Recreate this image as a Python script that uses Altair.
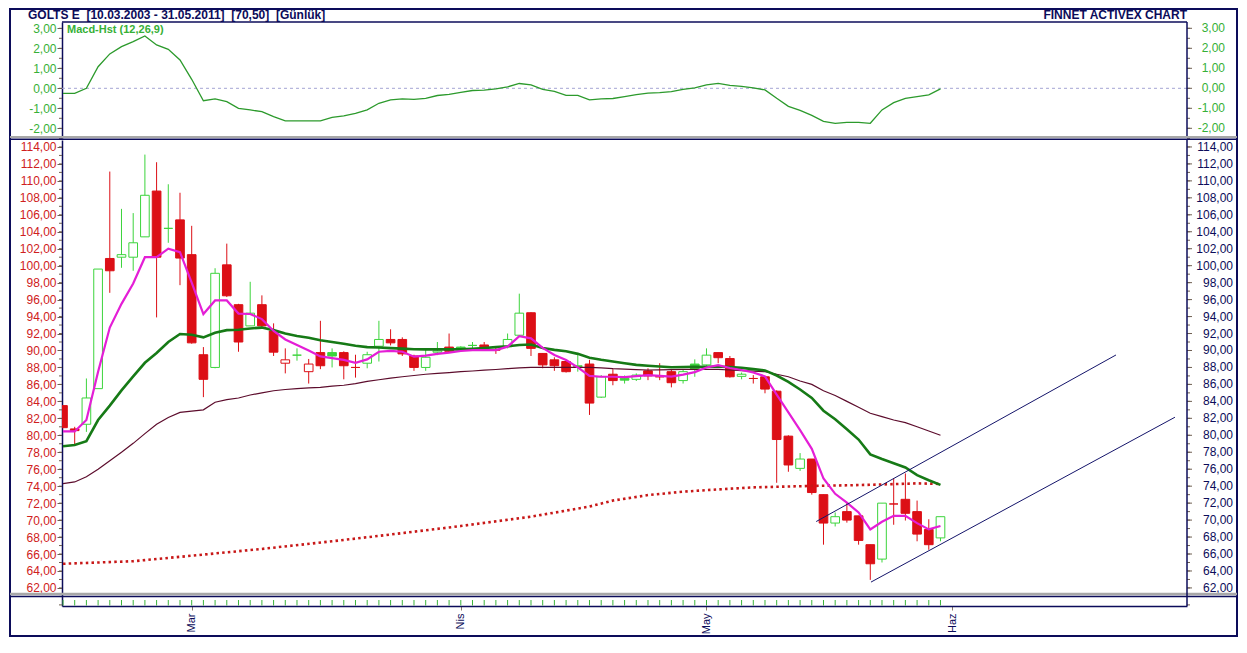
import altair as alt
import pandas as pd

TITLE_LEFT = "GOLTS E\u00a0 [10.03.2003 - 31.05.2011]\u00a0 [70,50]\u00a0 [Günlük]"
TITLE_RIGHT = "FİNNET ACTIVEX CHART"
MACD_LABEL = "Macd-Hst (12,26,9)"

opens = [83.5, 80.75, 81.3, 85.5, 100.85, 101.0, 101.0, 103.4, 108.8, 104.4,
         105.4, 101.3, 89.5, 88.0, 100.1, 95.4, 92.9, 95.4, 92.3, 88.5,
         89.45, 87.5, 89.75, 89.75, 89.75, 88.0, 88.5, 90.5, 91.3, 91.3,
         89.35, 88.0, 89.8, 90.4, 90.4, 90.6, 90.65, 90.05, 90.45, 91.8,
         94.45, 89.65, 88.9, 88.7, 88.1, 88.4, 84.5, 87.2, 86.72, 86.6,
         87.6, 86.9, 87.5, 86.45, 88.4, 88.3, 89.75, 89.05, 86.95, 86.7,
         86.9, 85.2, 79.9, 76.1, 77.2, 73.0, 69.65, 71.0, 70.5, 67.1,
         65.4, 71.9, 72.45, 71.0, 68.9, 67.9]
highs = [83.5, 81.0, 86.7, 99.6, 111.1, 106.7, 106.2, 113.1, 112.2, 109.6,
         108.6, 104.7, 90.4, 99.7, 102.6, 95.5, 98.1, 96.5, 93.2, 90.25,
         90.25, 89.0, 93.5, 90.25, 89.9, 89.5, 89.85, 93.5, 92.5, 91.55,
         89.5, 90.25, 91.0, 92.0, 90.5, 91.0, 91.0, 90.5, 92.0, 96.7,
         94.5, 89.7, 89.2, 88.8, 89.45, 88.9, 87.1, 87.8, 87.05, 87.3,
         87.9, 88.5, 87.8, 87.8, 88.95, 90.25, 89.75, 89.35, 87.4, 87.1,
         86.9, 85.3, 80.0, 77.9, 77.2, 73.0, 70.9, 72.1, 70.5, 67.1,
         72.0, 74.95, 75.5, 72.3, 70.1, 70.4]
lows = [80.9, 78.9, 80.4, 85.5, 96.8, 99.75, 99.4, 103.4, 93.9, 102.7,
        97.7, 90.8, 84.5, 87.9, 96.3, 89.85, 92.9, 92.6, 89.35, 87.3,
        88.8, 86.1, 87.8, 88.0, 86.6, 86.8, 87.9, 88.7, 90.6, 89.35,
        87.6, 87.6, 89.45, 89.85, 89.9, 90.0, 90.0, 89.6, 90.25, 91.6,
        89.35, 87.9, 87.6, 87.4, 87.5, 82.4, 84.4, 85.9, 86.1, 86.4,
        86.5, 86.5, 85.65, 86.1, 86.9, 88.2, 88.5, 86.8, 86.6, 86.1,
        84.95, 74.4, 75.7, 75.8, 73.0, 67.1, 69.25, 69.7, 67.1, 62.95,
        65.0, 69.45, 69.95, 67.5, 66.5, 67.5]
closes = [80.9, 80.55, 84.4, 99.6, 99.4, 101.3, 102.7, 108.3, 101.0, 104.4,
          100.9, 90.9, 86.6, 99.1, 96.45, 91.0, 94.4, 92.9, 89.8, 88.9,
          89.45, 88.4, 88.2, 89.35, 88.2, 88.0, 89.5, 91.3, 90.9, 89.6,
          88.0, 89.2, 89.95, 89.9, 90.05, 90.6, 90.25, 90.05, 91.3, 94.4,
          90.25, 88.3, 88.2, 87.5, 88.2, 83.8, 86.9, 86.45, 86.5, 87.1,
          87.0, 86.9, 86.2, 87.5, 87.8, 89.45, 89.15, 86.9, 87.2, 86.7,
          85.45, 79.5, 76.5, 77.2, 73.25, 69.65, 70.4, 70.0, 67.6, 64.85,
          72.0, 71.9, 70.8, 68.35, 67.1, 70.4]

ma_fast = [80.45, 80.45, 81.8, 87.5, 92.7, 95.5, 97.9, 101.0, 101.0, 102.0,
           101.6, 98.0, 94.3, 95.9, 95.9, 94.35, 94.3, 93.7, 92.3, 91.3,
           90.65, 90.0, 89.3, 89.1, 88.9, 88.55, 88.95, 89.85, 89.95, 89.85,
           89.27, 89.4, 89.6, 89.75, 89.94, 90.05, 90.05, 90.05, 90.45, 91.7,
           91.43, 90.3, 89.47, 88.88, 88.0, 87.0, 86.9, 86.9, 86.85, 86.98,
           87.1, 87.0, 86.92, 87.15, 87.45, 88.0, 88.27, 87.93, 87.7, 87.4,
           86.95, 84.8, 82.7, 80.6, 78.4, 74.9, 73.1, 72.05, 70.9, 68.9,
           69.8, 70.5, 70.5, 69.64, 68.9, 69.3]
ma_mid = [78.7, 78.85, 79.3, 81.8, 83.5, 85.3, 86.95, 88.55, 89.7, 91.0,
          91.94, 91.85, 91.55, 92.1, 92.4, 92.45, 92.6, 92.7, 92.4, 92.0,
          91.7, 91.5, 91.2, 91.0, 90.8, 90.55, 90.4, 90.35, 90.28, 90.22,
          90.15, 90.13, 90.13, 90.13, 90.13, 90.2, 90.3, 90.4, 90.5, 90.65,
          90.7, 90.3, 90.07, 89.9, 89.6, 89.15, 88.9, 88.7, 88.5, 88.3,
          88.2, 88.12, 88.03, 88.05, 88.08, 88.09, 88.09, 88.05, 87.95, 87.8,
          87.65, 87.05, 86.3, 85.4, 84.4, 82.9, 81.9, 80.7, 79.5, 77.75,
          77.2, 76.7, 76.2, 75.3, 74.7, 74.15]
ma_slow = [74.3, 74.5, 75.1, 76.0, 77.0, 78.0, 79.05, 80.2, 81.3, 82.1,
           82.7, 82.85, 83.0, 83.9, 84.2, 84.4, 84.75, 85.0, 85.25, 85.4,
           85.5, 85.58, 85.65, 85.8, 85.9, 86.1, 86.35, 86.55, 86.75, 86.9,
           87.05, 87.2, 87.3, 87.4, 87.5, 87.58, 87.68, 87.76, 87.85, 87.95,
           88.02, 88.02, 88.02, 88.02, 88.02, 88.0, 87.95, 87.85, 87.8, 87.75,
           87.7, 87.72, 87.75, 87.78, 87.78, 87.78, 87.78, 87.7, 87.62, 87.56,
           87.5, 87.2, 86.9, 86.4, 86.0, 85.25, 84.7, 84.0, 83.3, 82.6,
           82.2, 81.8, 81.5, 81.0, 80.5, 80.0]
ma_long_idx = [0, 6, 11, 17, 23, 28, 34, 40, 45, 47, 50, 53, 56, 59, 62, 64, 67, 70, 73, 75]
ma_long = [64.85, 65.15, 65.8, 66.6, 67.5, 68.3, 69.3, 70.4, 71.6, 72.3,
           72.95, 73.35, 73.62, 73.86, 73.96, 74.03, 74.1, 74.2, 74.33, 74.27]

macd = [-0.25, -0.25, 0.0, 1.08, 1.72, 2.08, 2.33, 2.62, 2.17, 1.95,
        1.42, 0.45, -0.62, -0.53, -0.67, -1.0, -1.08, -1.17, -1.42, -1.63,
        -1.63, -1.63, -1.63, -1.45, -1.38, -1.25, -1.08, -0.75, -0.58, -0.53,
        -0.55, -0.5, -0.36, -0.3, -0.2, -0.11, -0.09, -0.03, 0.07, 0.24,
        0.17, -0.05, -0.15, -0.35, -0.35, -0.58, -0.53, -0.51, -0.42, -0.32,
        -0.24, -0.22, -0.17, -0.05, 0.02, 0.17, 0.25, 0.15, 0.1, 0.02,
        -0.08, -0.5, -0.9, -1.1, -1.35, -1.65, -1.75, -1.7, -1.7, -1.75,
        -1.08, -0.72, -0.5, -0.42, -0.33, -0.03]

chan_upper_i = [64.38, 90.0]
chan_upper_p = [69.83, 89.47]
chan_lower_i = [69.06, 95.04]
chan_lower_p = [62.69, 82.13]

month_pos = [11, 34, 55, 76]
month_names = ["Mar", "Nis", "May", "Haz"]

price_ticks = list(range(62, 115, 2))
price_minor = list(range(60, 115, 1))
macd_ticks = [-2, -1, 0, 1, 2, 3]
macd_minor = [-2.5, -2, -1.5, -1, -0.5, 0, 0.5, 1, 1.5, 2, 2.5, 3]

# ---------------- styling ----------------
W = 1125
H_M = 116
H_P = 466
NAVY = "#0c0c5a"
RED_LBL = "#cf2020"
GREEN_LBL = "#36b036"
TICK = "#6e5e50"
RED = "#dc0f16"
GREEN = "#3cd43c"
FONT = "Liberation Sans"

XS = alt.Scale(domain=[-0.085, 96.07], nice=False, zero=False)
PS = alt.Scale(domain=[59.87, 114.82], nice=False, zero=False)
MS = alt.Scale(domain=[-2.485, 3.315], nice=False, zero=False)

DEC = "(datum.value < 0 ? '-' : '') + replace(format(abs(datum.value), '.2f'), '.', ',')"

def fmt(v):
    s = f"{abs(v):.2f}".replace(".", ",")
    return ("-" if v < 0 else "") + s

month_expr = "''"
for p, n in reversed(list(zip(month_pos, month_names))):
    month_expr = f"datum.value == {p} ? '{n}' : ({month_expr})"

PAX = alt.Axis(values=price_ticks, labelExpr=DEC, labelColor=RED_LBL, labelFont=FONT,
               labelFontSize=12, tickSize=5, tickColor=TICK, domainColor=NAVY,
               domainWidth=1.5, grid=False, title=None, labelPadding=1,
               labelOverlap=False, labelFlush=False, labelBound=False)
MAX = alt.Axis(values=macd_ticks, labelExpr=DEC, labelColor=GREEN_LBL, labelFont=FONT,
               labelFontSize=12, tickSize=5, tickColor=TICK, domainColor=NAVY,
               domainWidth=1.5, grid=False, title=None, labelPadding=1,
               labelOverlap=False, labelFlush=False, labelBound=False)
XAX = alt.Axis(values=month_pos, labelExpr=month_expr, labelAngle=270, labelColor=NAVY,
               labelFont=FONT, labelFontSize=11, tickSize=4, tickColor="#8a7a6a",
               domainColor=NAVY, domainWidth=1.5, grid=False, title=None,
               labelPadding=3, labelOverlap=False, labelFlush=False, labelBound=False)

def px(field):
    return alt.X(field, type="quantitative", scale=XS, axis=XAX)

def mx(field):
    return alt.X(field, type="quantitative", scale=XS, axis=None)

def py(field):
    return alt.Y(field, type="quantitative", scale=PS, axis=PAX)

def my(field):
    return alt.Y(field, type="quantitative", scale=MS, axis=MAX)

one = pd.DataFrame({"a": [0]})

# ---------------- candle table ----------------
rows = []
for k in range(len(closes)):
    up = k > 0 and closes[k] > closes[k - 1]
    col = GREEN if up else RED
    filled = closes[k] < opens[k]
    rows.append({
        "i": k, "x1": k - 0.37, "x2": k + 0.37,
        "lo": min(opens[k], closes[k]), "hi": max(opens[k], closes[k]),
        "l": lows[k], "h": highs[k], "col": col,
        "fillc": col if filled else "#ffffff",
    })
cdf = pd.DataFrame(rows)

def series_df(vals, idx=None):
    if idx is None:
        idx = list(range(len(vals)))
    return pd.DataFrame({"i": idx, "v": vals})

# ---------------- price panel ----------------
wicks = alt.Chart(cdf).mark_rule(strokeWidth=1, clip=True).encode(
    x=px("i"), y=py("l"), y2="h", color=alt.Color("col:N", scale=None))
bodies = alt.Chart(cdf).mark_rect(strokeWidth=1, clip=True).encode(
    x=px("x1"), x2="x2", y=py("lo"), y2="hi",
    fill=alt.Fill("fillc:N", scale=None), stroke=alt.Stroke("col:N", scale=None))

l_long = alt.Chart(series_df(ma_long, ma_long_idx)).mark_line(
    color="#c81818", strokeWidth=2.6, strokeDash=[2.5, 3.2]).encode(x=px("i"), y=py("v"))
l_slow = alt.Chart(series_df(ma_slow)).mark_line(
    color="#5c0c2c", strokeWidth=1.2).encode(x=px("i"), y=py("v"))
l_mid = alt.Chart(series_df(ma_mid)).mark_line(
    color="#167a16", strokeWidth=2.6).encode(x=px("i"), y=py("v"))
l_fast = alt.Chart(series_df(ma_fast)).mark_line(
    color="#e41ed6", strokeWidth=2.2).encode(x=px("i"), y=py("v"))

chan = pd.DataFrame({
    "i": chan_upper_i + chan_lower_i,
    "v": chan_upper_p + chan_lower_p,
    "g": ["u", "u", "l", "l"],
})
channel = alt.Chart(chan).mark_line(color="#14146a", strokeWidth=1).encode(
    x=px("i"), y=py("v"), detail="g:N")

ptick_df = pd.DataFrame({"v": price_ticks, "t": [fmt(v) for v in price_ticks]})
pminor_df = pd.DataFrame({"v": price_minor})
p_right_lbl = alt.Chart(ptick_df).mark_text(
    align="right", baseline="middle", font=FONT, fontSize=12, color=NAVY).encode(
    y=py("v"), x=alt.value(W + 46), text="t:N")
p_right_tick = alt.Chart(ptick_df).mark_rule(color=TICK, strokeWidth=1).encode(
    y=py("v"), x=alt.value(W), x2=alt.value(W + 5))
p_minor_l = alt.Chart(pminor_df).mark_rule(color=TICK, strokeWidth=1, clip=False).encode(
    y=py("v"), x=alt.value(-3), x2=alt.value(0))
p_minor_r = alt.Chart(pminor_df).mark_rule(color=TICK, strokeWidth=1).encode(
    y=py("v"), x=alt.value(W), x2=alt.value(W + 3))

strip = alt.Chart(cdf).mark_rule(color="#3cb43c", strokeWidth=1).encode(
    x=px("i"), y=alt.value(460), y2=alt.value(465.5))

sep_top_g = alt.Chart(one).mark_rule(color="#a8a8a8", strokeWidth=2).encode(
    x=alt.value(-52), x2=alt.value(W + 50), y=alt.value(-3))
sep_top_n = alt.Chart(one).mark_rule(color=NAVY, strokeWidth=1.5).encode(
    x=alt.value(-52), x2=alt.value(W + 50), y=alt.value(-0.8))
sep_bot_g = alt.Chart(one).mark_rule(color="#a8a8a8", strokeWidth=2.5).encode(
    x=alt.value(-52), x2=alt.value(W + 50), y=alt.value(454))
sep_bot_n = alt.Chart(one).mark_rule(color=NAVY, strokeWidth=1.5).encode(
    x=alt.value(-52), x2=alt.value(W + 50), y=alt.value(456.5))
p_right_border = alt.Chart(one).mark_rule(color=NAVY, strokeWidth=1.5).encode(
    x=alt.value(W), y=alt.value(0), y2=alt.value(H_P))

price = alt.layer(
    wicks, bodies, l_long, l_slow, l_mid, l_fast, channel,
    p_minor_l, p_minor_r, p_right_tick, p_right_lbl, strip,
    sep_top_g, sep_top_n, sep_bot_g, sep_bot_n, p_right_border,
).properties(width=W, height=H_P)

# ---------------- MACD panel ----------------
frame = alt.Chart(one).mark_rect(fillOpacity=0, stroke=NAVY, strokeWidth=2).encode(
    x=alt.value(-52), x2=alt.value(W + 50), y=alt.value(-13), y2=alt.value(614))
t_left = alt.Chart(one).mark_text(
    align="left", baseline="top", font=FONT, fontSize=12, fontWeight="bold",
    color=NAVY).encode(x=alt.value(-34), y=alt.value(-12), text=alt.value(TITLE_LEFT))
t_right = alt.Chart(one).mark_text(
    align="right", baseline="top", font=FONT, fontSize=12, fontWeight="bold",
    color=NAVY).encode(x=alt.value(W), y=alt.value(-12), text=alt.value(TITLE_RIGHT))
t_macd = alt.Chart(one).mark_text(
    align="left", baseline="top", font=FONT, fontSize=11, fontWeight="bold",
    color=GREEN_LBL).encode(x=alt.value(5), y=alt.value(2), text=alt.value(MACD_LABEL))

zero = alt.Chart(pd.DataFrame({"v": [0]})).mark_rule(
    color="#a4a4d4", strokeWidth=1, strokeDash=[3, 3]).encode(
    y=my("v"), x=alt.value(0), x2=alt.value(W))
macd_line = alt.Chart(series_df(macd)).mark_line(
    color="#2c9a2c", strokeWidth=1.3).encode(x=mx("i"), y=my("v"))

mtick_df = pd.DataFrame({"v": macd_ticks, "t": [fmt(v) for v in macd_ticks]})
mminor_df = pd.DataFrame({"v": macd_minor})
m_right_lbl = alt.Chart(mtick_df).mark_text(
    align="right", baseline="middle", font=FONT, fontSize=12, color=GREEN_LBL).encode(
    y=my("v"), x=alt.value(W + 38), text="t:N")
m_right_tick = alt.Chart(mtick_df).mark_rule(color=TICK, strokeWidth=1).encode(
    y=my("v"), x=alt.value(W), x2=alt.value(W + 5))
m_minor_l = alt.Chart(mminor_df).mark_rule(color=TICK, strokeWidth=1).encode(
    y=my("v"), x=alt.value(-3), x2=alt.value(0))
m_minor_r = alt.Chart(mminor_df).mark_rule(color=TICK, strokeWidth=1).encode(
    y=my("v"), x=alt.value(W), x2=alt.value(W + 3))
m_top = alt.Chart(one).mark_rule(color=NAVY, strokeWidth=1.5).encode(
    x=alt.value(0), x2=alt.value(W), y=alt.value(0))
m_right = alt.Chart(one).mark_rule(color=NAVY, strokeWidth=1.5).encode(
    x=alt.value(W), y=alt.value(0), y2=alt.value(H_M))

macd_panel = alt.layer(
    frame, t_left, t_right, zero, macd_line, t_macd,
    m_minor_l, m_minor_r, m_right_tick, m_right_lbl, m_top, m_right,
).properties(width=W, height=H_M)

chart = alt.vconcat(macd_panel, price, spacing=2, bounds="flush").properties(
    padding=0, background="#ffffff"
).configure_view(stroke=None)

chart.save("out.html", embed_options={"renderer": "svg", "actions": False})
